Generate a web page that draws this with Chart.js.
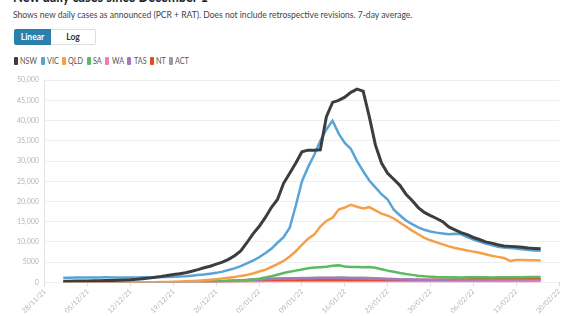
<!DOCTYPE html>
<html><head><meta charset="utf-8">
<script src="https://cdn.jsdelivr.net/npm/chart.js@4.4.0/dist/chart.umd.min.js"></script>
<style>
html,body{margin:0;padding:0;background:#fff;width:567px;height:316px;overflow:hidden;font-family:Lato,sans-serif;}
.sq{transform-origin:0 0;transform:scaleX(0.855);}
#title{position:absolute;left:13px;top:-13px;font-size:15px;font-weight:bold;color:#222;white-space:nowrap;}
#sub{position:absolute;left:13px;top:8px;font-size:10px;color:#444;white-space:nowrap;}
#btns{position:absolute;left:14px;top:29px;height:16px;display:flex;}
.b{font-size:8.5px;font-weight:bold;height:16px;line-height:16px;text-align:center;box-sizing:border-box;}
#lin{width:37px;background:#2b7fae;color:#fff;border-radius:2px 0 0 2px;}
#log{width:45px;border:1px solid #ddd;color:#333;border-left:none;border-radius:0 2px 2px 0;line-height:14px;}
#legend{position:absolute;left:14px;top:56px;height:10px;display:flex;align-items:center;white-space:nowrap;}
.li{display:flex;align-items:center;margin-right:3.6px;}
.bx{width:4px;height:8px;border-radius:1px;margin-right:2.2px;}
.lt{font-size:8.5px;color:#555;display:inline-block;}
#wrap{position:absolute;left:0;top:70px;width:567px;height:246px;}
</style></head><body>
<div id="title" class="sq">New daily cases since December 1</div>
<div id="sub" class="sq">Shows new daily cases as announced (PCR + RAT). Does not include retrospective revisions. 7-day average.</div>
<div id="btns"><div class="b" id="lin">Linear</div><div class="b" id="log">Log</div></div>
<div id="legend"></div>
<div id="wrap"><canvas id="c" width="567" height="246"></canvas></div>
<script>
// Day offsets are counted from 28/11/21 (day 0). Data runs 01/12/21 (day 3) to 17/02/22 (day 81).
const firstDay = 3;
const xTickLabels = ['28/11/21','05/12/21','12/12/21','19/12/21','26/12/21','02/01/22','09/01/22','16/01/22','23/01/22','30/01/22','06/02/22','13/02/22','20/02/22'];
const yTicks = [0,5000,10000,15000,20000,25000,30000,35000,40000,45000,50000];
const states = ['NSW','VIC','QLD','SA','WA','TAS','NT','ACT'];

const NSW = [280,300,310,330,360,390,420,450,490,530,
  600,650,750,900,1050,1250,1450,1700,1950,2150,
  2400,2750,3150,3600,4000,4500,5000,5700,6600,7800,
  9800,12000,13800,16000,18500,20500,24500,27000,29500,32300,
  32700,32700,32800,41000,44500,45000,45800,47000,47800,47300,
  41000,34000,29500,27000,25500,24000,21800,20250,18500,17300,
  16500,15800,15000,13700,13000,12300,11800,11100,10600,10000,
  9700,9300,9000,8900,8800,8700,8500,8400,8300];
const VIC = [1150,1160,1180,1200,1210,1220,1230,1240,1220,1210,
  1200,1210,1230,1250,1260,1280,1310,1340,1380,1450,
  1530,1650,1800,1950,2150,2350,2650,3050,3450,4000,
  4700,5400,6200,7200,8300,9800,11200,13500,19000,25000,
  28500,31500,35000,37800,40000,36800,34500,33000,30000,27500,
  25200,23500,21800,20500,18000,16600,15300,14400,13600,13000,
  12600,12300,12100,11900,12000,11900,11200,10600,10100,9600,
  9200,8800,8600,8500,8400,8200,8000,7900,7800];
const QLD = [10,10,12,12,14,15,15,16,18,20,
  22,25,28,32,40,55,75,100,130,180,
  250,330,420,520,650,800,950,1150,1350,1600,
  1800,2200,2700,3100,3800,4500,5300,6400,7700,9300,
  10800,11800,13800,15200,16000,18000,18500,19200,18700,18300,
  18600,17800,17000,16500,15800,14800,13800,12800,11900,11000,
  10400,9900,9400,8900,8500,8200,7900,7600,7300,6950,
  6600,6300,6050,5300,5550,5500,5450,5450,5400];
const SA = [5,5,6,6,7,8,9,10,12,14,
  16,18,20,24,28,32,36,40,45,50,
  60,80,100,130,170,220,280,340,400,460,
  520,700,900,1200,1500,1900,2300,2600,2900,3200,
  3500,3650,3750,3850,4100,4200,3950,3800,3800,3750,
  3800,3600,3250,2900,2600,2300,2050,1850,1650,1500,
  1400,1300,1250,1250,1240,1230,1240,1250,1250,1240,
  1230,1250,1260,1270,1280,1290,1300,1300,1300];
const WA = [1,1,1,1,1,1,1,1,1,1,
  1,1,1,1,1,1,2,2,2,2,
  2,3,3,3,3,3,4,4,5,5,
  5,6,6,7,7,8,8,9,9,10,
  10,11,12,12,13,14,15,15,16,17,
  18,19,20,22,24,26,28,30,33,36,
  40,45,50,55,62,70,78,86,95,105,
  115,125,135,145,155,165,175,185,195];
const TAS = [2,2,2,2,2,2,2,2,2,2,
  3,3,3,4,5,7,10,14,20,28,
  40,55,75,100,140,190,250,320,400,480,
  560,640,710,780,840,890,930,960,990,1010,
  1030,1040,1050,1060,1070,1060,1040,1010,980,950,
  920,880,840,800,760,720,690,660,640,620,
  600,590,580,570,560,550,540,530,520,510,
  500,500,500,505,510,515,520,525,530];
const NT = [2,2,2,2,2,2,2,2,2,2,
  3,3,3,3,3,4,4,5,6,8,
  10,14,20,28,40,55,75,100,130,160,
  200,240,280,320,360,400,430,460,490,510,
  530,550,560,570,580,590,590,590,580,570,
  560,550,540,530,530,530,540,550,560,580,
  600,620,640,660,680,700,720,740,760,780,
  800,810,820,830,840,850,860,870,880];
const ACT = [8,8,9,9,10,10,11,11,12,12,
  13,14,15,17,20,24,30,38,48,60,
  75,95,120,150,190,240,300,370,450,530,
  610,690,760,830,890,940,980,1010,1040,1070,
  1100,1120,1140,1160,1170,1180,1180,1170,1150,1120,
  1080,1030,970,910,850,790,740,690,650,610,
  580,560,540,520,510,500,490,480,470,460,
  450,445,440,435,430,430,430,430,430];

const series = [NSW,VIC,QLD,SA,WA,TAS,NT,ACT];
const colors = ['#3d3d3d','#58a4d8','#f5a049','#5cba62','#f27bb7','#a974c0','#d9501c','#9c9c9c'];

// HTML legend built from the series names and colours
const lg = document.getElementById('legend');
states.forEach((s,k)=>{
  const it = document.createElement('div'); it.className='li';
  const bx = document.createElement('span'); bx.className='bx'; bx.style.background=colors[k];
  const tx = document.createElement('span'); tx.className='lt'; tx.textContent=s;
  it.appendChild(bx); it.appendChild(tx); lg.appendChild(it);
});
// condense label text to match the narrow original face
document.fonts.ready.then(()=>{
  lg.querySelectorAll('.lt').forEach(t=>{
    const w = t.getBoundingClientRect().width;
    t.style.width = (w*0.85)+'px';
    t.style.transformOrigin='0 50%';
    t.style.transform='scaleX(0.85)';
  });
});

const datasets = states.map((s,k)=>({
  label:s,
  data: series[k].map((v,i)=>({x:firstDay+i,y:v})),
  borderColor:colors[k],
  backgroundColor:colors[k],
  borderWidth: k===0 ? 3 : 2.5,
  pointRadius:0,
  tension:0,
  fill:false
}));

new Chart(document.getElementById('c'),{
  type:'line',
  data:{datasets},
  options:{
    responsive:false,
    animation:false,
    layout:{padding:{left:11,right:8,top:10,bottom:0}},
    plugins:{ legend:{display:false}, tooltip:{enabled:false} },
    scales:{
      x:{
        type:'linear',min:0,max:84,
        afterBuildTicks(axis){ axis.ticks = xTickLabels.map((l,i)=>({value:i*7})); },
        ticks:{autoSkip:false,maxRotation:45,minRotation:45,color:'#b5b5b5',font:{family:'Lato',size:7},
          padding:1,callback:(v)=>xTickLabels[Math.round(v/7)]},
        grid:{drawOnChartArea:false,tickLength:4,color:'#ddd'},
        border:{display:false}
      },
      y:{
        min:0,max:50000,
        afterBuildTicks(axis){ axis.ticks = yTicks.map(v=>({value:v})); },
        ticks:{color:'#b5b5b5',font:{family:'Lato',size:7},padding:6,
          callback:(v)=> v>=10000 ? v.toLocaleString('en-US') : String(v)},
        grid:{color:'#eeeeee',drawTicks:false},
        border:{color:'#e2e2e2'}
      }
    }
  }
});
</script>
</body></html>
